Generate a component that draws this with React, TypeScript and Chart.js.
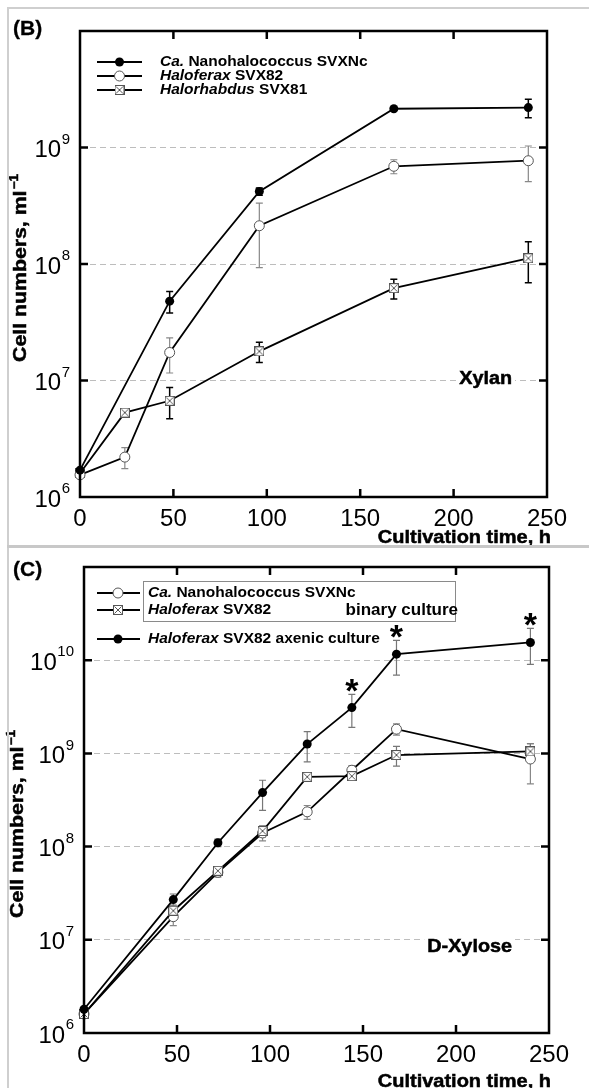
import React, { useEffect, useRef } from "react";
import { Chart, registerables } from "chart.js";
Chart.register(...registerables);

const FONT = '"Liberation Sans", Arial, Helvetica, sans-serif';
const W = 589;

// ---------- Panel B (Xylan) ----------
const xTickValues = [0, 50, 100, 150, 200, 250];
const bNanoTime = [0, 48, 96, 168, 240];
const bNano = [1.7e6, 4.8e7, 4.2e8, 2.15e9, 2.2e9];
const bNanoSd = [0, 1.0e7, 3.0e7, 0, 4.0e8];
const bHfxTime = [0, 24, 48, 96, 168, 240];
const bHfx = [1.55e6, 2.2e6, 1.74e7, 2.13e8, 6.9e8, 7.7e8];
const bHfxSd = [0, 4.5e5, 5.8e6, 1.2e8, 9.5e7, 2.6e8];
const bHrbTime = [0, 24, 48, 96, 168, 240];
const bHrb = [1.6e6, 5.3e6, 6.7e6, 1.78e7, 6.2e7, 1.12e8];
const bHrbSd = [0, 0, 2.0e6, 3.5e6, 1.2e7, 4.3e7];
const bYTicks = [1e6, 1e7, 1e8, 1e9, 1e10];
const bYExp = [6, 7, 8, 9];
const bLegendItalic = ["Ca.", "Haloferax", "Halorhabdus"];
const bLegendRest = [" Nanohalococcus SVXNc", " SVX82", " SVX81"];
const bSubstrate = "Xylan";

// ---------- Panel C (D-Xylose) ----------
const cTime = [0, 48, 72, 96, 120, 144, 168, 240];
const cAxenic = [1.8e6, 2.7e7, 1.1e8, 3.8e8, 1.26e9, 3.1e9, 1.16e10, 1.55e10];
const cAxenicSd = [0, 4e6, 1e7, 1.35e8, 4.5e8, 1.2e9, 4.7e9, 6.5e9];
const cNano = [1.6e6, 1.77e7, 5.3e7, 1.4e8, 2.36e8, 6.6e8, 1.82e9, 8.7e8];
const cNanoSd = [0, 3.5e6, 6e6, 2.5e7, 4e7, 8e7, 2.5e8, 4e8];
const cHfx = [1.6e6, 2.05e7, 5.5e7, 1.47e8, 5.6e8, 5.7e8, 9.6e8, 1.05e9];
const cHfxSd = [0, 3e6, 6e6, 2e7, 3e7, 5e7, 2.3e8, 2.2e8];
const cStarTimes = [144, 168, 240];
const cYTicks = [1e6, 1e7, 1e8, 1e9, 1e10, 1e11];
const cYExp = [6, 7, 8, 9, 10];
const cLegendItalic = ["Ca.", "Haloferax", "Haloferax"];
const cLegendRest = [" Nanohalococcus SVXNc", " SVX82", " SVX82 axenic culture"];
const cBinaryLabel = "binary culture";
const cSubstrate = "D-Xylose";

const yTitleMain = "Cell numbers, ml";
const yTitleSup = "\u22121";
const xTitle = "Cultivation time, h";

type Marker = "filled" | "open" | "xsq";
type Series = { time: number[]; vals: number[]; sd: number[]; marker: Marker; errColor: string; order: number };

function makeXSquare(): HTMLCanvasElement {
  const s = 10;
  const c = document.createElement("canvas");
  c.width = s;
  c.height = s;
  const g = c.getContext("2d")!;
  g.fillStyle = "#fff";
  g.fillRect(0, 0, s, s);
  g.strokeStyle = "#555";
  g.lineWidth = 1;
  g.strokeRect(0.5, 0.5, s - 1, s - 1);
  g.beginPath();
  g.moveTo(1.5, 1.5);
  g.lineTo(s - 1.5, s - 1.5);
  g.moveTo(s - 1.5, 1.5);
  g.lineTo(1.5, s - 1.5);
  g.stroke();
  return c;
}

function drawMarker(ctx: CanvasRenderingContext2D, kind: Marker, x: number, y: number, xsq: HTMLCanvasElement) {
  ctx.save();
  if (kind === "filled") {
    ctx.fillStyle = "#000";
    ctx.beginPath();
    ctx.arc(x, y, 4.5, 0, Math.PI * 2);
    ctx.fill();
  } else if (kind === "open") {
    ctx.fillStyle = "#fff";
    ctx.strokeStyle = "#555";
    ctx.lineWidth = 1;
    ctx.beginPath();
    ctx.arc(x, y, 5, 0, Math.PI * 2);
    ctx.fill();
    ctx.stroke();
  } else {
    ctx.drawImage(xsq, x - xsq.width / 2, y - xsq.height / 2);
  }
  ctx.restore();
}

function heavyText(
  ctx: CanvasRenderingContext2D,
  text: string,
  x: number,
  y: number,
  size: number,
  align: "left" | "right" | "center",
  stretch = 1.1,
  stroke = 0.5,
  whiteBg = false
) {
  ctx.save();
  ctx.font = `bold ${size}px ${FONT}`;
  const w = ctx.measureText(text).width * stretch;
  const left = align === "left" ? x : align === "right" ? x - w : x - w / 2;
  if (whiteBg) {
    ctx.fillStyle = "#fff";
    ctx.fillRect(left - 3, y - size * 0.55, w + 6, size * 1.1);
  }
  ctx.translate(left, y);
  ctx.scale(stretch, 1);
  ctx.textAlign = "left";
  ctx.textBaseline = "middle";
  ctx.fillStyle = "#000";
  ctx.fillText(text, 0, 0);
  if (stroke > 0) {
    ctx.lineWidth = stroke;
    ctx.strokeStyle = "#000";
    ctx.strokeText(text, 0, 0);
  }
  ctx.restore();
  return w;
}

function drawYTitle(ctx: CanvasRenderingContext2D, cx: number, cy: number) {
  ctx.save();
  ctx.translate(cx, cy);
  ctx.rotate(-Math.PI / 2);
  const st = 1.12;
  ctx.font = `bold 19px ${FONT}`;
  const mw = ctx.measureText(yTitleMain).width;
  ctx.font = `bold 12px ${FONT}`;
  const sw = ctx.measureText(yTitleSup).width;
  ctx.scale(st, 1);
  const x0 = -(mw + sw + 1) / 2;
  ctx.textAlign = "left";
  ctx.textBaseline = "middle";
  ctx.fillStyle = "#000";
  ctx.strokeStyle = "#000";
  ctx.lineWidth = 0.5;
  ctx.font = `bold 19px ${FONT}`;
  ctx.fillText(yTitleMain, x0, 0);
  ctx.strokeText(yTitleMain, x0, 0);
  ctx.font = `bold 12px ${FONT}`;
  ctx.fillText(yTitleSup, x0 + mw + 1, -6);
  ctx.strokeText(yTitleSup, x0 + mw + 1, -6);
  ctx.restore();
}

function drawLegendText(ctx: CanvasRenderingContext2D, italic: string, rest: string, x: number, y: number, size: number) {
  ctx.save();
  ctx.fillStyle = "#000";
  ctx.textAlign = "left";
  ctx.textBaseline = "middle";
  ctx.font = `italic bold ${size}px ${FONT}`;
  ctx.fillText(italic, x, y);
  const w = ctx.measureText(italic).width;
  ctx.font = `bold ${size}px ${FONT}`;
  ctx.fillText(rest, x + w, y);
  ctx.restore();
}

type Panel = {
  top: number;
  height: number;
  area: { left: number; top: number; right: number; bottom: number };
  yMin: number;
  yMax: number;
  yTicks: number[];
  yExp: number[];
  series: Series[];
  extras: (chart: any, xsq: HTMLCanvasElement) => void;
};

function legendLine(ctx: CanvasRenderingContext2D, x0: number, x1: number, y: number) {
  ctx.save();
  ctx.strokeStyle = "#000";
  ctx.lineWidth = 1.8;
  ctx.beginPath();
  ctx.moveTo(x0, y);
  ctx.lineTo(x1, y);
  ctx.stroke();
  ctx.restore();
}

const panelB: Panel = {
  top: 0,
  height: 545,
  area: { left: 80, top: 31, right: 547, bottom: 497 },
  yMin: 1e6,
  yMax: 1e10,
  yTicks: bYTicks,
  yExp: bYExp,
  series: [
    { time: bNanoTime, vals: bNano, sd: bNanoSd, marker: "filled", errColor: "#000", order: 0 },
    { time: bHfxTime, vals: bHfx, sd: bHfxSd, marker: "open", errColor: "#888", order: 1 },
    { time: bHrbTime, vals: bHrb, sd: bHrbSd, marker: "xsq", errColor: "#000", order: 2 },
  ],
  extras: (chart, xsq) => {
    const ctx: CanvasRenderingContext2D = chart.ctx;
    heavyText(ctx, "(B)", 13, 29, 21, "left", 1.0, 0.3);
    const markers: Marker[] = ["filled", "open", "xsq"];
    const ly = [62, 76, 90];
    markers.forEach((m, i) => {
      legendLine(ctx, 97, 142, ly[i]);
      drawMarker(ctx, m, 119.5, ly[i], xsq);
      drawLegendText(ctx, bLegendItalic[i], bLegendRest[i], 160, ly[i], 15.5);
    });
    heavyText(ctx, bSubstrate, 512, 379, 18, "right", 1.1, 0.5, true);
    drawYTitle(ctx, 21, 268);
    heavyText(ctx, xTitle, 551, 538, 18, "right", 1.11, 0.5);
  },
};

const panelC: Panel = {
  top: 546,
  height: 542,
  area: { left: 84, top: 21, right: 549, bottom: 487 },
  yMin: 1e6,
  yMax: 1e11,
  yTicks: cYTicks,
  yExp: cYExp,
  series: [
    { time: cTime, vals: cAxenic, sd: cAxenicSd, marker: "filled", errColor: "#777", order: 0 },
    { time: cTime, vals: cNano, sd: cNanoSd, marker: "open", errColor: "#888", order: 2 },
    { time: cTime, vals: cHfx, sd: cHfxSd, marker: "xsq", errColor: "#777", order: 1 },
  ],
  extras: (chart, xsq) => {
    const ctx: CanvasRenderingContext2D = chart.ctx;
    const xs = chart.scales.x;
    const ys = chart.scales.y;
    heavyText(ctx, "(C)", 13, 24, 21, "left", 1.0, 0.3);
    // legend box
    ctx.save();
    ctx.strokeStyle = "#8a8a8a";
    ctx.lineWidth = 1;
    ctx.strokeRect(143.5, 35.5, 312, 40);
    ctx.restore();
    const markers: Marker[] = ["open", "xsq", "filled"];
    const ly = [47, 64, 93];
    markers.forEach((m, i) => {
      legendLine(ctx, 97, 140, ly[i]);
      drawMarker(ctx, m, 118, ly[i], xsq);
      drawLegendText(ctx, cLegendItalic[i], cLegendRest[i], 148, ly[i], 15.5);
    });
    ctx.save();
    ctx.font = `bold 17px ${FONT}`;
    ctx.fillStyle = "#000";
    ctx.textAlign = "right";
    ctx.textBaseline = "middle";
    ctx.fillText(cBinaryLabel, 458, 64);
    ctx.restore();
    // significance stars
    ctx.save();
    ctx.font = `bold 34px ${FONT}`;
    ctx.fillStyle = "#000";
    ctx.textAlign = "center";
    ctx.textBaseline = "alphabetic";
    const m = ctx.measureText("*");
    cStarTimes.forEach((t) => {
      const i = cTime.indexOf(t);
      const px = xs.getPixelForValue(t);
      const topPx = ys.getPixelForValue(cAxenic[i] + cAxenicSd[i]);
      const cy = topPx - 9;
      const base = cy + (m.actualBoundingBoxAscent - m.actualBoundingBoxDescent) / 2;
      ctx.fillText("*", px, base);
    });
    ctx.restore();
    heavyText(ctx, cSubstrate, 512, 401, 18, "right", 1.1, 0.5, true);
    drawYTitle(ctx, 18, 278);
    heavyText(ctx, xTitle, 551, 536, 18, "right", 1.11, 0.5);
  },
};

function buildConfig(p: Panel, xsq: HTMLCanvasElement): any {
  const datasets = p.series.map((s) => ({
    data: s.time.map((t, i) => ({ x: t, y: s.vals[i] })),
    borderColor: "#000",
    borderWidth: 1.8,
    tension: 0,
    fill: false,
    clip: false,
    order: s.order,
    pointStyle: s.marker === "xsq" ? xsq : "circle",
    pointRadius: s.marker === "filled" ? 4.5 : 5,
    pointHoverRadius: s.marker === "filled" ? 4.5 : 5,
    pointBackgroundColor: s.marker === "filled" ? "#000" : "#fff",
    pointBorderColor: s.marker === "filled" ? "#000" : "#555",
    pointBorderWidth: s.marker === "filled" ? 0 : 1,
    errors: s.sd,
    errColor: s.errColor,
  }));

  const errorBars = {
    id: "errorBars",
    beforeDatasetsDraw(chart: any) {
      const ctx: CanvasRenderingContext2D = chart.ctx;
      const xs = chart.scales.x;
      const ys = chart.scales.y;
      chart.data.datasets.forEach((ds: any) => {
        ctx.save();
        ctx.strokeStyle = ds.errColor;
        ctx.lineWidth = ds.errColor === "#000" ? 1.5 : 1.2;
        ctx.beginPath();
        ds.data.forEach((pt: any, i: number) => {
          const e = ds.errors[i];
          if (!e) return;
          const x = xs.getPixelForValue(pt.x);
          const y1 = ys.getPixelForValue(pt.y + e);
          const y2 = ys.getPixelForValue(Math.max(pt.y - e, p.yMin));
          ctx.moveTo(x, y1);
          ctx.lineTo(x, y2);
          ctx.moveTo(x - 3.5, y1);
          ctx.lineTo(x + 3.5, y1);
          ctx.moveTo(x - 3.5, y2);
          ctx.lineTo(x + 3.5, y2);
        });
        ctx.stroke();
        ctx.restore();
      });
    },
  };

  const frame = {
    id: "frame",
    afterDraw(chart: any) {
      const ctx: CanvasRenderingContext2D = chart.ctx;
      const a = chart.chartArea;
      const xs = chart.scales.x;
      const ys = chart.scales.y;
      ctx.save();
      ctx.strokeStyle = "#000";
      ctx.lineWidth = 2.5;
      ctx.strokeRect(a.left, a.top, a.right - a.left, a.bottom - a.top);
      ctx.beginPath();
      xs.ticks.forEach((t: any) => {
        if (t.value <= xs.min || t.value >= xs.max) return;
        const px = xs.getPixelForValue(t.value);
        ctx.moveTo(px, a.bottom);
        ctx.lineTo(px, a.bottom - 8);
        ctx.moveTo(px, a.top);
        ctx.lineTo(px, a.top + 8);
      });
      ys.ticks.forEach((t: any) => {
        if (t.value <= p.yMin * 1.01 || t.value >= p.yMax / 1.01) return;
        const py = ys.getPixelForValue(t.value);
        ctx.moveTo(a.left, py);
        ctx.lineTo(a.left + 8, py);
        ctx.moveTo(a.right, py);
        ctx.lineTo(a.right - 8, py);
      });
      ctx.stroke();
      // y tick labels 10^n
      ctx.fillStyle = "#000";
      ctx.textAlign = "left";
      ctx.textBaseline = "middle";
      p.yExp.forEach((e) => {
        const py = ys.getPixelForValue(Math.pow(10, e));
        const right = a.left - 10;
        ctx.font = `15px ${FONT}`;
        const ew = ctx.measureText(String(e)).width;
        ctx.fillText(String(e), right - ew, py - 8);
        ctx.font = `24px ${FONT}`;
        const bw = ctx.measureText("10").width;
        ctx.fillText("10", right - ew - bw - 0.5, py + 3);
      });
      ctx.restore();
      p.extras(chart, xsq);
    },
  };

  return {
    type: "line",
    data: { datasets },
    options: {
      animation: false,
      responsive: false,
      maintainAspectRatio: false,
      devicePixelRatio: 1,
      events: [],
      layout: { padding: { top: p.area.top, right: W - p.area.right, left: 0, bottom: 0 } },
      plugins: { legend: { display: false }, tooltip: { enabled: false }, title: { display: false } },
      scales: {
        x: {
          type: "linear",
          min: 0,
          max: 250,
          afterFit: (s: any) => {
            s.height = p.height - p.area.bottom;
          },
          afterBuildTicks: (s: any) => {
            s.ticks = xTickValues.map((v) => ({ value: v }));
          },
          ticks: {
            font: { family: FONT, size: 24 },
            color: "#000",
            padding: 8,
            maxRotation: 0,
            autoSkip: false,
          },
          grid: { display: false, drawTicks: false },
          border: { display: false },
        },
        y: {
          type: "logarithmic",
          min: p.yMin,
          max: p.yMax,
          afterFit: (s: any) => {
            s.width = p.area.left;
          },
          afterBuildTicks: (s: any) => {
            s.ticks = p.yTicks.map((v) => ({ value: v }));
          },
          ticks: { display: false },
          grid: {
            drawTicks: false,
            lineWidth: 1,
            color: (c: any) => {
              const v = c.tick ? c.tick.value : 0;
              return v > p.yMin * 1.01 && v < p.yMax / 1.01 ? "#bdbdbd" : "rgba(0,0,0,0)";
            },
          },
          border: { display: false, dash: [6, 4] },
        },
      },
    },
    plugins: [errorBars, frame],
  };
}

function PanelChart({ panel }: { panel: Panel }) {
  const ref = useRef<HTMLCanvasElement>(null);
  useEffect(() => {
    const xsq = makeXSquare();
    const chart = new Chart(ref.current!, buildConfig(panel, xsq));
    return () => chart.destroy();
  }, [panel]);
  return (
    <canvas
      ref={ref}
      width={W}
      height={panel.height}
      style={{ position: "absolute", left: 0, top: panel.top, width: W, height: panel.height }}
    />
  );
}

export default function App() {
  return (
    <div
      style={{
        position: "absolute",
        left: 0,
        top: 0,
        width: W,
        height: 1088,
        background: "#fff",
        overflow: "hidden",
      }}
    >
      <PanelChart panel={panelB} />
      <PanelChart panel={panelC} />
      <div style={{ position: "absolute", left: 7, top: 7, width: 582, height: 2, background: "#cfcfcf" }} />
      <div style={{ position: "absolute", left: 7, top: 7, width: 2, height: 1081, background: "#cfcfcf" }} />
      <div style={{ position: "absolute", left: 7, top: 545, width: 582, height: 3, background: "#c8c8c8" }} />
    </div>
  );
}
